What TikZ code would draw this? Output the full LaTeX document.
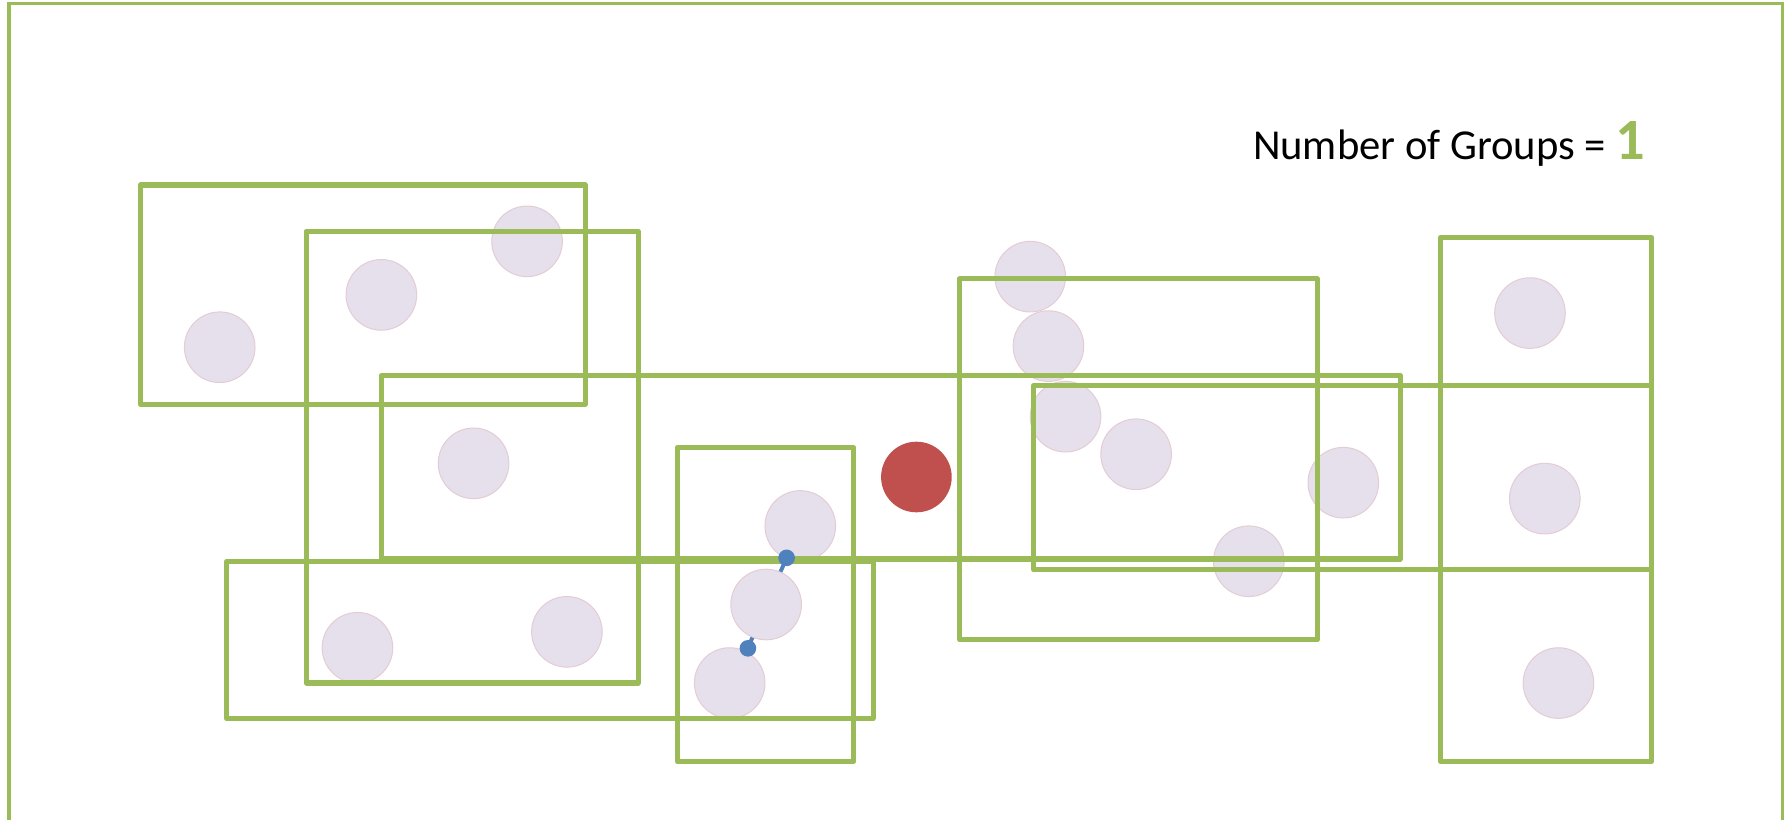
\documentclass[tikz,border=0pt]{standalone}
\usepackage{fontspec}
\setmainfont{Carlito}
\definecolor{grp}{HTML}{9BBB59}
\definecolor{pt}{HTML}{E6E0EC}
\definecolor{ptedge}{HTML}{E4CCD4}
\definecolor{redpt}{HTML}{C0504D}
\definecolor{bluept}{HTML}{4F81BD}
\tikzset{
  pnode/.style={circle,minimum size=0.62cm,inner sep=0pt,fill=pt,draw=ptedge,line width=0.25pt},
  rnode/.style={circle,minimum size=0.62cm,inner sep=0pt,fill=redpt},
  grpbox/.style={draw=grp,line width=0.045cm,line join=round},
  frame/.style={draw=grp,line width=0.03cm},
  link/.style={draw=bluept,line width=0.035cm},
  bdot/.style={fill=bluept}
}
\begin{document}
\begin{tikzpicture}[x=0.01cm,y=-0.01cm]
\useasboundingbox (0,0) rectangle (1568,720);
\fill[white] (0,0) rectangle (1568,720);
% points
\node[pnode] (c1) at (193,305) {};
\node[pnode] (c2) at (335,259) {};
\node[pnode] (c3) at (463,212) {};
\node[pnode] (c4) at (416,407) {};
\node[pnode] (cA) at (703,462) {};
\node[pnode] (cB) at (673,531) {};
\node[pnode] (cC) at (641,600) {};
\node[pnode] (c5) at (314,569) {};
\node[pnode] (c6) at (498,555) {};
\node[pnode] (c7) at (905,243) {};
\node[pnode] (c8) at (921,304) {};
\node[pnode] (c9) at (936,366) {};
\node[pnode] (c10) at (998,399) {};
\node[pnode] (c11) at (1180,424) {};
\node[pnode] (c12) at (1097,493) {};
\node[pnode] (c13) at (1344,275) {};
\node[pnode] (c14) at (1357,438) {};
\node[pnode] (c15) at (1369,600) {};
\node[rnode] (cr) at (805,419) {};
% frame
\draw[frame] (8,3) rectangle (1566,730);
% group boxes
\draw[grpbox] (123.5,162.5) rectangle (514,355);
\draw[grpbox] (269,203) rectangle (560.5,600);
\draw[grpbox] (335,330) rectangle (1230,491);
\draw[grpbox] (199,493.4) rectangle (767,631);
\draw[grpbox] (595,393) rectangle (750,669);
\draw[grpbox] (843,245) rectangle (1157,562);
\draw[grpbox] (908,338.8) rectangle (1451,500.5);
\draw[grpbox] (1265.5,208.5) rectangle (1451,669);
% links
\coordinate (d1) at (691,490);
\coordinate (d2) at (657,569.5);
\draw[link] (d1) -- (cB);
\draw[link] (d2) -- (cB);
\fill[bdot] (d1) circle (7.3);
\fill[bdot] (d2) circle (7.3);
% label
\node[anchor=base west,inner sep=0pt,font=\fontsize{10.65}{13}\selectfont] (lbl) at (1100,140.5)
  {Number of Groups = \textcolor{grp}{\fontsize{14.6}{16}\selectfont\bfseries 1}};
\end{tikzpicture}
\end{document}
